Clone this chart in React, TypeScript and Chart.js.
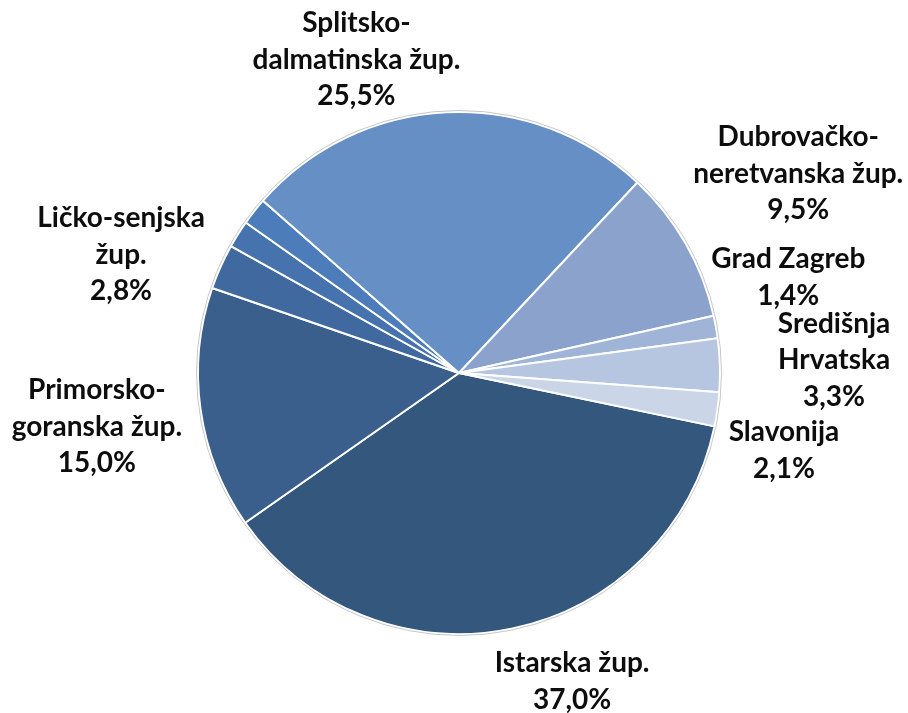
import React, { useEffect, useRef } from 'react';
import { Chart, registerables } from 'chart.js';

Chart.register(...registerables);

// Categories in drawing order (clockwise, starting with Istarska žup.)
const categories = [
  'Istarska žup.',
  'Primorsko-goranska žup.',
  'Ličko-senjska žup.',
  'Zadarska žup.',
  'Šibensko-kninska žup.',
  'Splitsko-dalmatinska žup.',
  'Dubrovačko-neretvanska žup.',
  'Grad Zagreb',
  'Središnja Hrvatska',
  'Slavonija',
];

// Label text lines shown on the chart (empty = no label shown)
const labelLines: string[][] = [
  ['Istarska žup.'],
  ['Primorsko-', 'goranska žup.'],
  ['Ličko-senjska', 'žup.'],
  [],
  [],
  ['Splitsko-', 'dalmatinska žup.'],
  ['Dubrovačko-', 'neretvanska žup.'],
  ['Grad Zagreb'],
  ['Središnja', 'Hrvatska'],
  ['Slavonija'],
];

// Shares in %
const shares = [37.0, 15.0, 2.8, 1.7, 1.7, 25.5, 9.5, 1.4, 3.3, 2.1];

const colors = [
  '#34577D',
  '#3B5F8C',
  '#4069A0',
  '#4673AE',
  '#4C7CBA',
  '#668FC6',
  '#8BA3CC',
  '#A0B4D7',
  '#B6C5E0',
  '#CBD5E8',
];

// Label placement: [angle offset from slice middle (deg, clockwise), distance as multiple of radius]
const labelPlacement: (number[] | null)[] = [
  [-8.6, 1.255],
  [-0.3, 1.402],
  [-4.6, 1.373],
  null,
  null,
  [-15.3, 1.266],
  [-0.8, 1.51],
  [-6.2, 1.315],
  [-0.4, 1.438],
  [5.2, 1.279],
];

const fmtPct = (v: number) => v.toFixed(1).replace('.', ',') + '%';

const labelPlugin = {
  id: 'pieLabels',
  afterDatasetsDraw(chart: any) {
    const ctx = chart.ctx;
    const meta = chart.getDatasetMeta(0);
    // faint outer rim
    if (meta.data.length) {
      const a0: any = meta.data[0];
      ctx.save();
      ctx.beginPath();
      ctx.arc(a0.x, a0.y, a0.outerRadius + 1.5, 0, Math.PI * 2);
      ctx.strokeStyle = 'rgba(185,185,185,0.8)';
      ctx.lineWidth = 1;
      ctx.stroke();
      ctx.restore();
    }
    ctx.save();
    const fontSize = 28;
    const lineH = 36.5;
    ctx.font = `bold ${fontSize}px Lato`;
    ctx.fillStyle = '#0d0d0d';
    ctx.textAlign = 'center';
    ctx.textBaseline = 'alphabetic';
    meta.data.forEach((arc: any, i: number) => {
      const p = labelPlacement[i];
      if (!p) return;
      const { x, y, startAngle, endAngle, outerRadius } = arc.getProps(
        ['x', 'y', 'startAngle', 'endAngle', 'outerRadius'],
        true
      );
      const mid = (startAngle + endAngle) / 2 + (p[0] * Math.PI) / 180;
      const r = outerRadius * p[1];
      const cx = x + Math.cos(mid) * r;
      const cy = y + Math.sin(mid) * r;
      const lines = [...labelLines[i], fmtPct(shares[i])];
      const capHalf = fontSize * 0.36;
      lines.forEach((t, k) => {
        const ly = cy + (k - (lines.length - 1) / 2) * lineH + capHalf;
        ctx.fillText(t, cx, ly);
      });
    });
    ctx.restore();
  },
};

export default function App() {
  const ref = useRef<HTMLCanvasElement>(null);
  useEffect(() => {
    if (!ref.current) return;
    const chart = new Chart(ref.current, {
      type: 'pie',
      data: {
        labels: categories,
        datasets: [
          {
            data: shares,
            backgroundColor: colors,
            borderColor: '#FFFFFF',
            borderWidth: 2,
          },
        ],
      },
      options: {
        responsive: false,
        animation: false,
        rotation: 101.8,
        layout: { padding: { left: 197, right: 187, top: 111, bottom: 78 } },
        plugins: {
          legend: { display: false },
          tooltip: { enabled: false },
        },
      },
      plugins: [labelPlugin],
    });
    return () => chart.destroy();
  }, []);
  return (
    <div style={{ position: 'fixed', left: 0, top: 0, width: 908, height: 713, background: '#fff' }}>
      <canvas ref={ref} width={908} height={713} style={{ width: 908, height: 713, display: 'block' }} />
    </div>
  );
}
